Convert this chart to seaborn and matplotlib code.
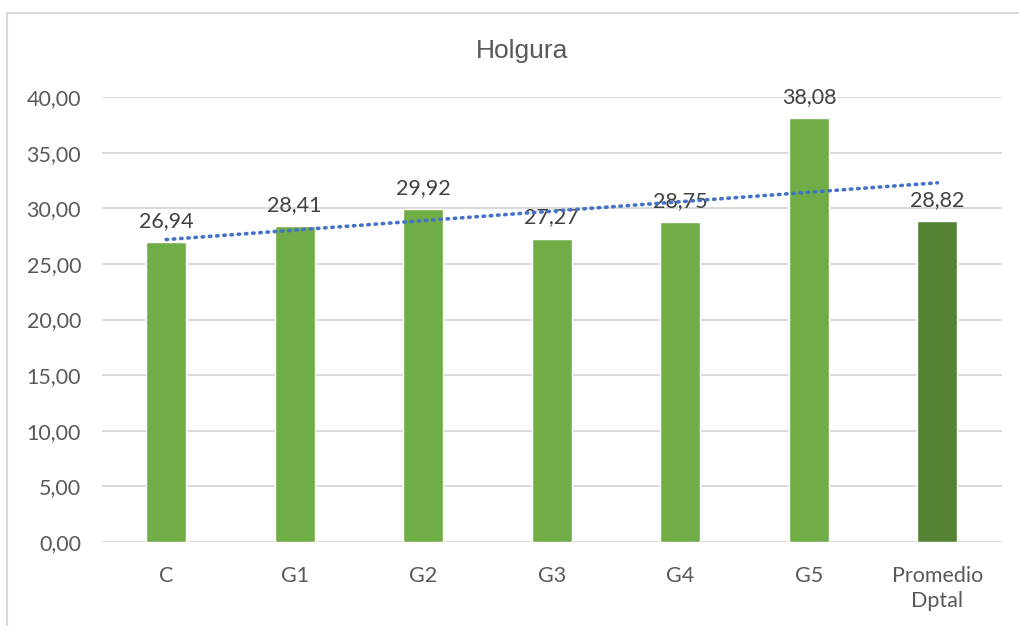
import numpy as np
import pandas as pd
import matplotlib
matplotlib.use('Agg')
import matplotlib.pyplot as plt
import matplotlib.patches as mpatches
import seaborn as sns

categories = ['C', 'G1', 'G2', 'G3', 'G4', 'G5', 'Promedio\nDptal']
values = [26.94, 28.41, 29.92, 27.27, 28.75, 38.08, 28.82]
bar_colors = ['#70AD47'] * 6 + ['#548235']
yticks = [0, 5, 10, 15, 20, 25, 30, 35, 40]

sns.set_style('white')
plt.rcParams['font.family'] = ['Lato', 'DejaVu Sans']

df = pd.DataFrame({'cat': categories, 'val': values})

fig = plt.figure(figsize=(10.19, 6.26), dpi=100)
ax = fig.add_axes([0.100, 0.134, 0.883, 0.711])

sns.barplot(data=df, x='cat', y='val', hue='cat', palette=bar_colors,
            width=0.31, legend=False, ax=ax, saturation=1)

# linear trendline like Excel
xs = np.arange(len(values))
slope, intercept = np.polyfit(xs, values, 1)
ax.plot(xs, slope * xs + intercept, color='#4472C4', lw=2.6,
        linestyle=(0, (0.4, 1.6)), dash_capstyle='round', zorder=5)

for i, v in enumerate(values):
    ax.annotate(f'{v:.2f}'.replace('.', ','), (i, v), xytext=(0, 8),
                textcoords='offset points', ha='center', va='bottom',
                fontsize=15.5, color='#404040', annotation_clip=False)

ax.set_ylim(0, 40)
ax.set_xlim(-0.5, len(categories) - 0.5)
ax.set_yticks(yticks)
ax.set_yticklabels([f'{t:.2f}'.replace('.', ',') for t in yticks])
ax.yaxis.grid(True, color='#D9D9D9', lw=1.4)
ax.set_axisbelow(True)
for s in ax.spines.values():
    s.set_visible(False)
ax.tick_params(axis='y', length=0, pad=15, labelsize=15.5, labelcolor='#595959')
ax.tick_params(axis='x', length=0, pad=17, labelsize=15.5, labelcolor='#595959')
for lab in ax.get_xticklabels():
    lab.set_linespacing(1.35)
ax.set_xlabel('')
ax.set_ylabel('')

fig.text(0.512, 0.918, 'Holgura', ha='center', va='center', fontsize=19,
         color='#595959', family=['Liberation Sans', 'DejaVu Sans'])

fig.patches.append(mpatches.Rectangle((0.0069, -0.05), 1.1, 1.029,
                                      transform=fig.transFigure, fill=False,
                                      edgecolor='#D9D9D9', lw=1.5))

fig.savefig('out.png', dpi=100, facecolor='white')
